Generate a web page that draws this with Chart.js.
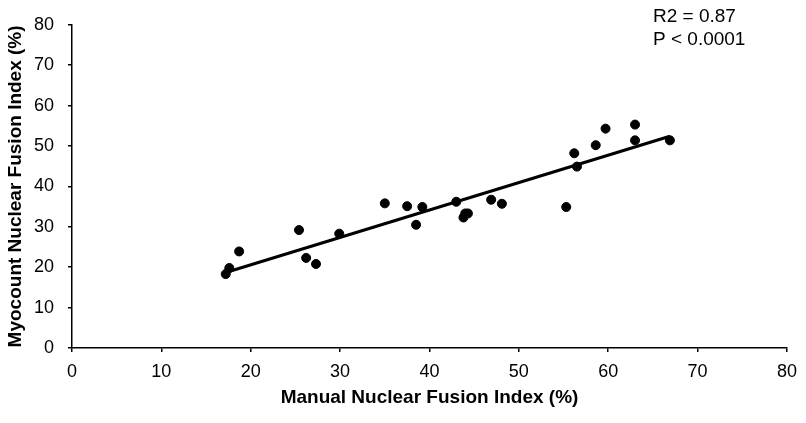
<!DOCTYPE html>
<html>
<head>
<meta charset="utf-8">
<script src="https://cdn.jsdelivr.net/npm/chart.js@4"></script>
<style>
  html, body { margin: 0; padding: 0; background: #fff; }
  #wrap { width: 806px; height: 423px; }
</style>
</head>
<body>
<div id="wrap"><canvas id="myChart" width="806" height="423"></canvas></div>
<script>
"use strict"

// values
const manualIndex = [17.2, 17.6, 18.7, 25.4, 26.2, 27.3, 29.9, 35.0, 37.5, 38.5, 39.2, 43.0, 43.8, 44.0, 44.3, 46.9, 48.1, 55.3, 56.2, 56.5, 58.6, 59.7, 63.0, 63.0, 66.9];
const myocountIndex = [18.3, 19.8, 23.9, 29.2, 22.3, 20.8, 28.3, 35.8, 35.1, 30.5, 34.9, 36.2, 32.3, 33.3, 33.3, 36.7, 35.7, 34.9, 48.2, 44.9, 50.2, 54.3, 55.3, 51.4, 51.4];

// trend line ends
const trendX = [17.2, 66.9];
const trendY = [18.7, 52.4];

const tickStep = 10;
const axisMax = 80;
const statLines = ["R2 = 0.87", "P < 0.0001"];

const fontFam = "'Liberation Sans', Arial, sans-serif";

// text in the top right corner
const statsPlugin = {
  id: 'stats',
  afterDraw(chart) {
    const c = chart.ctx;
    c.save();
    c.fillStyle = '#000';
    c.font = '19px ' + fontFam;
    c.textAlign = 'left';
    c.textBaseline = 'middle';
    c.fillText(statLines[0], 653, 17);
    c.fillText(statLines[1], 653, 40);
    c.restore();
  }
};

const ctx = document.getElementById('myChart');

new Chart(ctx, {
  type: 'scatter',
  data: {
    datasets: [{
      label: 'points',
      data: manualIndex.map((x, i) => ({x: x, y: myocountIndex[i]})),
      backgroundColor: '#000',
      borderColor: '#000',
      pointRadius: 4.5,
      pointHoverRadius: 4.5,
      order: 1
    }, {
      label: 'trend',
      type: 'line',
      data: trendX.map((x, i) => ({x: x, y: trendY[i]})),
      borderColor: '#000',
      borderWidth: 3,
      pointRadius: 0,
      fill: false,
      order: 2
    }]
  },
  options: {
    responsive: false,
    animation: false,
    layout: { padding: { left: 0, top: 18, right: 19, bottom: 0 } },
    plugins: {
      legend: { display: false },
      tooltip: { enabled: false }
    },
    scales: {
      x: {
        type: 'linear',
        min: 0,
        max: axisMax,
        afterFit(scale) { scale.height = 75; },
        border: { display: true, color: '#000', width: 1.5 },
        grid: { display: true, drawOnChartArea: false, drawTicks: true, tickLength: 4, color: '#000', lineWidth: 1.5 },
        ticks: { stepSize: tickStep, color: '#000', padding: 9, font: { family: fontFam, size: 18 } },
        title: {
          display: true,
          text: 'Manual Nuclear Fusion Index (%)',
          color: '#000',
          padding: { top: 0, bottom: 14 },
          font: { family: fontFam, size: 19, weight: 'bold' }
        }
      },
      y: {
        type: 'linear',
        min: 0,
        max: axisMax,
        afterFit(scale) { scale.width = 72; },
        border: { display: true, color: '#000', width: 1.5 },
        grid: { display: true, drawOnChartArea: false, drawTicks: true, tickLength: 4, color: '#000', lineWidth: 1.5 },
        ticks: { stepSize: tickStep, color: '#000', padding: 14, font: { family: fontFam, size: 18 } },
        title: {
          display: true,
          text: 'Myocount Nuclear Fusion Index (%)',
          color: '#000',
          padding: { top: 4, bottom: 0 },
          font: { family: fontFam, size: 19, weight: 'bold' }
        }
      }
    }
  },
  plugins: [statsPlugin]
});
</script>
</body>
</html>
